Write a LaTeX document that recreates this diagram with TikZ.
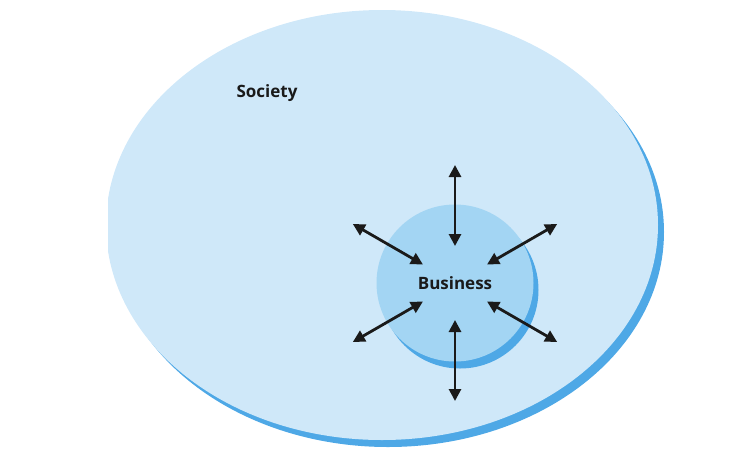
\documentclass[tikz,border=0pt]{standalone}
\usepackage{fontspec}
\setmainfont{Open Sans}
\usetikzlibrary{positioning,arrows.meta,shapes.geometric}
\definecolor{SocietyFill}{HTML}{CFE8F9}
\definecolor{BusinessFill}{HTML}{A3D5F3}
\definecolor{ShadowBlue}{HTML}{4EA8E6}
\definecolor{ArrowDark}{HTML}{1A1A1A}

\begin{document}
\begin{tikzpicture}[x=1pt, y=-1pt,
    society/.style={ellipse, inner sep=0pt, minimum width=552pt, minimum height=430pt, fill=SocietyFill},
    societyshadow/.style={ellipse, inner sep=0pt, minimum width=552pt, minimum height=430pt, fill=ShadowBlue},
    business/.style={circle, inner sep=0pt, minimum size=157pt, fill=BusinessFill},
    businessshadow/.style={circle, inner sep=0pt, minimum size=157pt, fill=ShadowBlue},
    tag/.style={font=\bfseries\fontsize{17}{20}\selectfont, text=ArrowDark, inner sep=0pt},
    link/.style={{Triangle[length=12pt,width=12pt]}-{Triangle[length=12pt,width=12pt]}, line width=2.8pt, draw=ArrowDark}
]
\useasboundingbox (0,0) rectangle (734,472);
\begin{scope}
\clip (108,0) rectangle (734,472);
\node[societyshadow] (societyback) at (388,232) {};
\node[society] (society) at (382,225) {};
\end{scope}
\node[tag] (societylabel) at (267,93) {Society};
\node[businessshadow] (businessback) at (460,290) {};
\node[business] (business) at (455,283) {};
\node[tag] (businesslabel) at (business.center) {Business};
% arrows out of the business circle
\foreach \a [count=\i] in {30,90,150,210,270,330} {
  \coordinate (inner\i) at ([shift={(\a:37)}]business.center);
  \coordinate (outer\i) at ([shift={(\a:118)}]business.center);
  \draw[link] (inner\i) -- (outer\i);
}
\end{tikzpicture}
\end{document}
